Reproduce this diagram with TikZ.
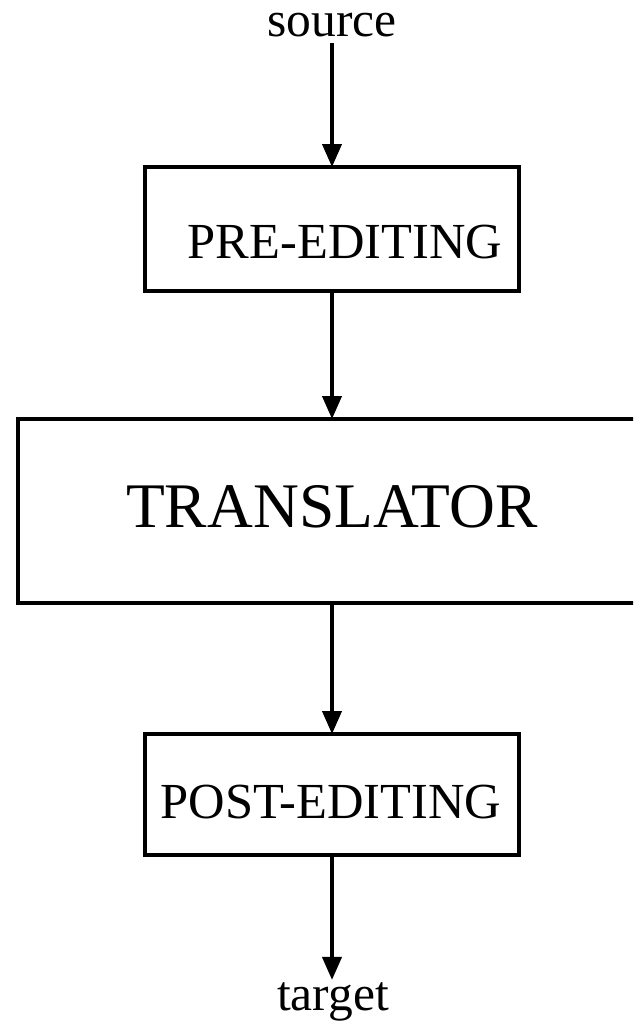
\documentclass[tikz,border=0pt]{standalone}
\usepackage{fontspec}
\setmainfont{Liberation Serif}
\usetikzlibrary{arrows.meta}
\begin{document}
\begin{tikzpicture}[x=1pt,y=-1pt,
  stagebox/.style={draw, line width=4.5pt, rectangle, inner sep=0pt, outer sep=0pt},
  label text/.style={inner sep=0pt, anchor=base},
  flow/.style={line width=4pt, -{Triangle[length=23pt,width=19pt]}}]
  \useasboundingbox (0,0) rectangle (633,1026);
  \clip (0,0) rectangle (633,1026);

  % stage boxes
  \node[stagebox, minimum width=374pt, minimum height=124pt] (pre) at (332,229) {};
  \node[stagebox, minimum width=642pt, minimum height=184pt] (trans) at (339,511) {};
  \node[stagebox, minimum width=374pt, minimum height=121pt] (post) at (332,794.5) {};

  % texts
  \node[label text, font=\fontsize{49.5pt}{55pt}\selectfont] (src) at (332,36.5) {source};
  \node[label text, font=\fontsize{50.5pt}{56pt}\selectfont] (pretxt) at (345,258) {PRE-EDITING};
  \node[label text, font=\fontsize{63.5pt}{70pt}\selectfont] (transtxt) at (332,527) {TRANSLATOR};
  \node[label text, font=\fontsize{50.5pt}{56pt}\selectfont] (posttxt) at (331,818) {POST-EDITING};
  \node[label text, font=\fontsize{49.5pt}{55pt}\selectfont] (tgt) at (333,1010) {target};

  % connectors
  \draw[flow, shorten <=6pt] (src.south) -- (pre.north);
  \draw[flow] (pre.south) -- (pre.south |- trans.north);
  \draw[flow] (pre.south |- trans.south) -- (post.north);
  \draw[flow, shorten >=2pt] (post.south) -- (post.south |- tgt.north);
\end{tikzpicture}
\end{document}
